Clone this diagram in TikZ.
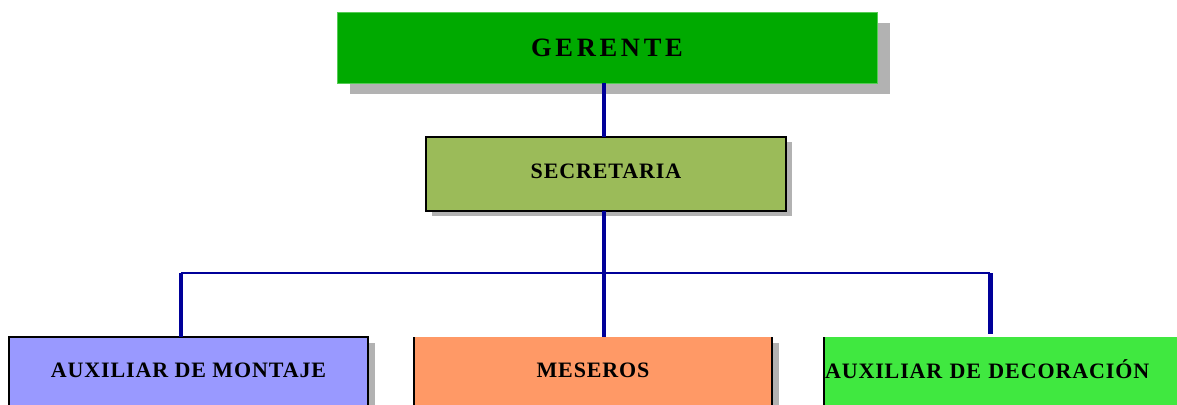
\documentclass[tikz,border=0pt]{standalone}
\usepackage{fontspec}
\setmainfont{Liberation Serif}
\newfontfamily\boxfont[LetterSpace=4]{Liberation Serif}
\newfontfamily\headfont[LetterSpace=14]{Liberation Serif}
\usetikzlibrary{shadows}
\definecolor{gerentegreen}{HTML}{00AA00}
\definecolor{gerenteedge}{HTML}{55CC55}
\definecolor{secgreen}{HTML}{9BBB59}
\definecolor{montajeblue}{HTML}{9999FF}
\definecolor{meserosorange}{HTML}{FF9966}
\definecolor{decogreen}{HTML}{40E840}
\definecolor{linknavy}{HTML}{000099}
\definecolor{shadowgray}{HTML}{B2B2B2}

\tikzset{
  orgbox/.style={rectangle, inner sep=1pt, outer sep=0pt,
    font=\boxfont\bfseries\fontsize{22}{26}\selectfont, text depth=6pt},
  lowbox/.style={orgbox, minimum width=358, minimum height=72,
    drop shadow={shadow xshift=7pt, shadow yshift=-6pt, fill=shadowgray, opacity=1}},
  link/.style={draw=linknavy, line width=3.5pt},
  buslink/.style={draw=linknavy, line width=2pt},
  edge/.style={draw=black, line width=1.2pt}
}

\begin{document}
\begin{tikzpicture}[x=1pt, y=-1pt]
\useasboundingbox (0,0) rectangle (1177,404);
% boxes
\node[orgbox, minimum width=540, minimum height=71, fill=gerentegreen, draw=gerenteedge, line width=0.8pt,
  font=\headfont\bfseries\fontsize{26.5}{30}\selectfont, text depth=0pt,
  drop shadow={shadow xshift=13pt, shadow yshift=-11pt, fill=shadowgray, opacity=1}]
  (ger) at (607,47.5) {GERENTE};
\node[orgbox, minimum width=360, minimum height=74, fill=secgreen, edge,
  drop shadow={shadow xshift=6pt, shadow yshift=-5pt, fill=shadowgray, opacity=1}]
  (sec) at (606,174) {SECRETARIA};
\node[lowbox, fill=montajeblue, edge, minimum width=359] (mon) at (188.5,373) {AUXILIAR DE MONTAJE};
\node[lowbox, fill=meserosorange] (mes) at (593,373) {MESEROS};
\node[lowbox, fill=decogreen, text width=356, align=left, text depth=8pt] (dec) at (1003,373) {AUXILIAR DE DECORACIÓN};
\draw[edge] (mes.north west) -- (mes.south west);
\draw[edge] (mes.north east) -- (mes.south east);
\draw[edge] (dec.north west) -- (dec.south west);

% connectors
\coordinate (bus) at (604,273);
\coordinate (tapl) at (181,273);
\coordinate (tapr) at (990,273);
\draw[link] (ger.south -| bus) -- (sec.north -| bus);
\draw[link] (sec.south -| bus) -- (bus);
\draw[buslink] (tapl) -- (tapr);
\draw[link] (tapl) -- (tapl |- mon.north);
\draw[link] (bus) -- (bus |- mes.north);
\draw[link, line width=5pt] (tapr) -- ([yshift=3pt]tapr |- dec.north);
\end{tikzpicture}
\end{document}
